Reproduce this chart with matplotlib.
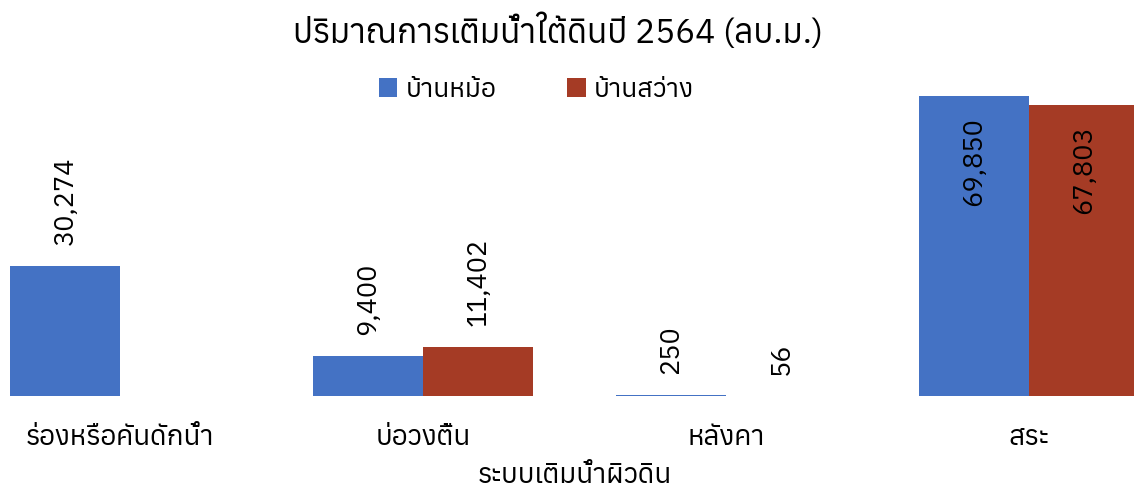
import matplotlib
matplotlib.use("Agg")
import matplotlib.pyplot as plt
from matplotlib import font_manager
from matplotlib.ft2font import FT2Font
import numpy as np

categories = ["ร่องหรือคันดักน้ำ", "บ่อวงตื้น", "หลังคา", "สระ"]
series_names = ["บ้านหม้อ", "บ้านสว่าง"]
ban_mo = [30274, 9400, 250, 69850]
ban_sawang = [None, 11402, 56, 67803]
colors = ["#4472C4", "#A53B25"]


def thai_family():
    # pick the first installed family with Thai glyphs
    names = []
    for f in font_manager.fontManager.ttflist:
        try:
            if 0x0E01 in FT2Font(f.fname).get_charmap():
                names.append(f.name)
        except Exception:
            pass
    return sorted(set(names))


thai = thai_family()
families = (thai[:1] if thai else []) + ["DejaVu Sans"]
plt.rcParams["font.family"] = families

fig = plt.figure(figsize=(11.34, 4.91), dpi=100)
ax = fig.add_axes([-31.5 / 1134, (491 - 396) / 491, 1212 / 1134, 300 / 491])

x = np.arange(len(categories))
w = 0.363
for i, (vals, c) in enumerate(zip([ban_mo, ban_sawang], colors)):
    offs = (i - 0.5) * w
    for xi, v in zip(x, vals):
        if v is None:
            continue
        ax.bar(xi + offs, v, width=w, color=c)
        label = f"{v:,}"
        if v > 60000:
            ax.annotate(label, (xi + offs, v), xytext=(0, -15), textcoords="offset points",
                        rotation=90, ha="center", va="top", fontsize=19.5)
        else:
            ax.annotate(label, (xi + offs, v), xytext=(0, 15), textcoords="offset points",
                        rotation=90, ha="center", va="bottom", fontsize=19.5)
    ax.bar(0, 0, color=c, label=series_names[i])

ax.set_xlim(-0.5, len(categories) - 0.5)
ax.set_ylim(0, 69850 * 1.0)
ax.set_xticks(x)
ax.set_xticklabels(categories, fontsize=20)
ax.tick_params(axis="x", length=0, pad=20)
ax.set_yticks([])
for s in ax.spines.values():
    s.set_visible(False)
ax.set_xlabel("ระบบเติมน้ำผิวดิน", fontsize=20, labelpad=8)

fig.text(0.492, 0.935, "ปริมาณการเติมน้ำใต้ดินปี 2564 (ลบ.ม.)", ha="center", va="center", fontsize=24)
fig.legend(loc="center", bbox_to_anchor=(0.473, 0.818), ncol=2, frameon=False, fontsize=19,
           handlelength=0.7, handleheight=0.7, columnspacing=2.7, handletextpad=0.3)

fig.savefig("out.png", dpi=100)
